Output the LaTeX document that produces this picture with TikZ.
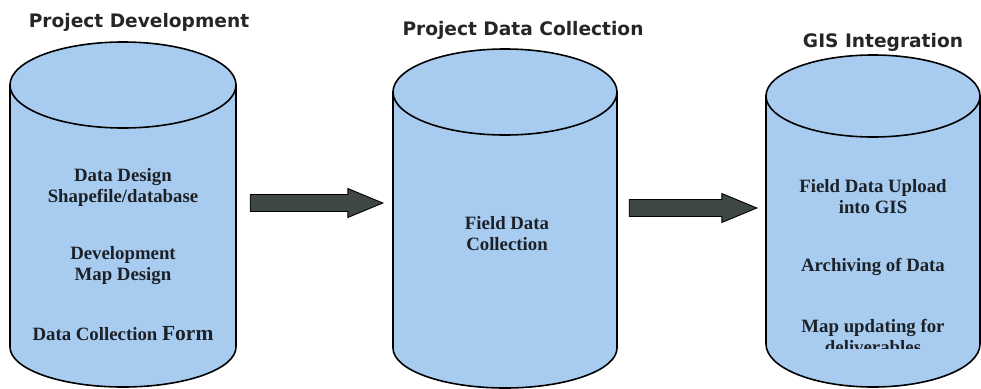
\documentclass[tikz,border=0pt]{standalone}
\usepackage{fontspec}
\setmainfont{Liberation Serif}
\newfontfamily\titlefont{DejaVu Sans}
\usetikzlibrary{calc}
\definecolor{cylblue}{HTML}{A8CCF0}
\definecolor{arrowgray}{HTML}{3F4843}
\definecolor{titlegray}{HTML}{262626}
\definecolor{bodyink}{HTML}{1C2128}
\tikzset{
  cyl/.style={fill=cylblue, draw=black, line width=1.6pt},
  ghost/.style={inner sep=0pt, draw=none},
  title/.style={font=\titlefont\bfseries\fontsize{18.6}{20}\selectfont, text=titlegray, anchor=base, inner sep=0pt},
  body/.style={font=\bfseries\fontsize{18.8}{21}\selectfont, text=bodyink, align=center, inner sep=0pt},
  blockarrow/.style={fill=arrowgray, draw=black, line width=0.9pt,
    to path={let \p1=(\tikztostart), \p2=(\tikztotarget) in
      (\x1,\y1+8.5pt) -- (\x2-35pt,\y1+8.5pt) -- (\x2-35pt,\y1+14.5pt) -- (\x2,\y1)
      -- (\x2-35pt,\y1-14.5pt) -- (\x2-35pt,\y1-8.5pt) -- (\x1,\y1-8.5pt) -- cycle}}
}
\begin{document}
\begin{tikzpicture}[x=1pt,y=1pt]
\useasboundingbox (0,0) rectangle (981,-388);
\fill[white] (0,0) rectangle (981,-388);

\begin{scope}
\clip (0,0) rectangle (981,-388);
% cylinder 1
\filldraw[cyl] (10,-85) -- (10,-347) arc[start angle=180,end angle=360,x radius=113pt,y radius=40pt] -- (236,-85) -- cycle;
\filldraw[cyl] (123,-85) ellipse[x radius=113pt,y radius=43pt];
% cylinder 2
\filldraw[cyl] (393,-92) -- (393,-348) arc[start angle=180,end angle=360,x radius=112pt,y radius=40pt] -- (617,-92) -- cycle;
\filldraw[cyl] (505,-92) ellipse[x radius=112pt,y radius=43pt];
% cylinder 3
\filldraw[cyl] (766,-96) -- (766,-344) arc[start angle=180,end angle=360,x radius=107pt,y radius=43pt] -- (980,-96) -- cycle;
\filldraw[cyl] (873,-96) ellipse[x radius=107pt,y radius=41pt];
\end{scope}

% named bodies
\node[ghost, minimum width=226pt, minimum height=270pt] (cyl1) at (123,-220) {};
\node[ghost, minimum width=224pt, minimum height=260pt] (cyl2) at (505,-222) {};
\node[ghost, minimum width=214pt, minimum height=250pt] (cyl3) at (873,-221) {};

% titles
\node[title] (t1) at (139,-27) {Project Development};
\node[title] (t2) at (523,-35) {Project Data Collection};
\node[title] (t3) at (883,-47) {GIS Integration};

% texts
\node[body] (d1) at (123,-187) {Data Design\\Shapefile/database};
\node[body] (d2) at (123,-266) {Development\\Map Design};
\node[body] (d3) at (123,-334) {Data Collection {\fontsize{21.5}{22}\selectfont Form}};
\node[body] (f1) at (507,-234) {Field Data\\Collection};
\node[body] (g1) at (873,-197) {Field Data Upload\\into GIS};
\node[body] (g2) at (873,-267) {Archiving of Data};
\begin{scope}
\clip (740,-300) rectangle (981,-348);
\node[body] (g3) at (873,-336) {Map updating for\\deliverables};
\end{scope}

% arrows
\coordinate (a1s) at ($(cyl1.east |- 0,-203)+(14,0)$);
\coordinate (a1e) at ($(cyl2.west |- 0,-203)+(-10,0)$);
\coordinate (a2s) at ($(cyl2.east |- 0,-208)+(12,0)$);
\coordinate (a2e) at ($(cyl3.west |- 0,-208)+(-9,0)$);
\draw[blockarrow] (a1s) to (a1e);
\draw[blockarrow] (a2s) to (a2e);
\end{tikzpicture}
\end{document}
